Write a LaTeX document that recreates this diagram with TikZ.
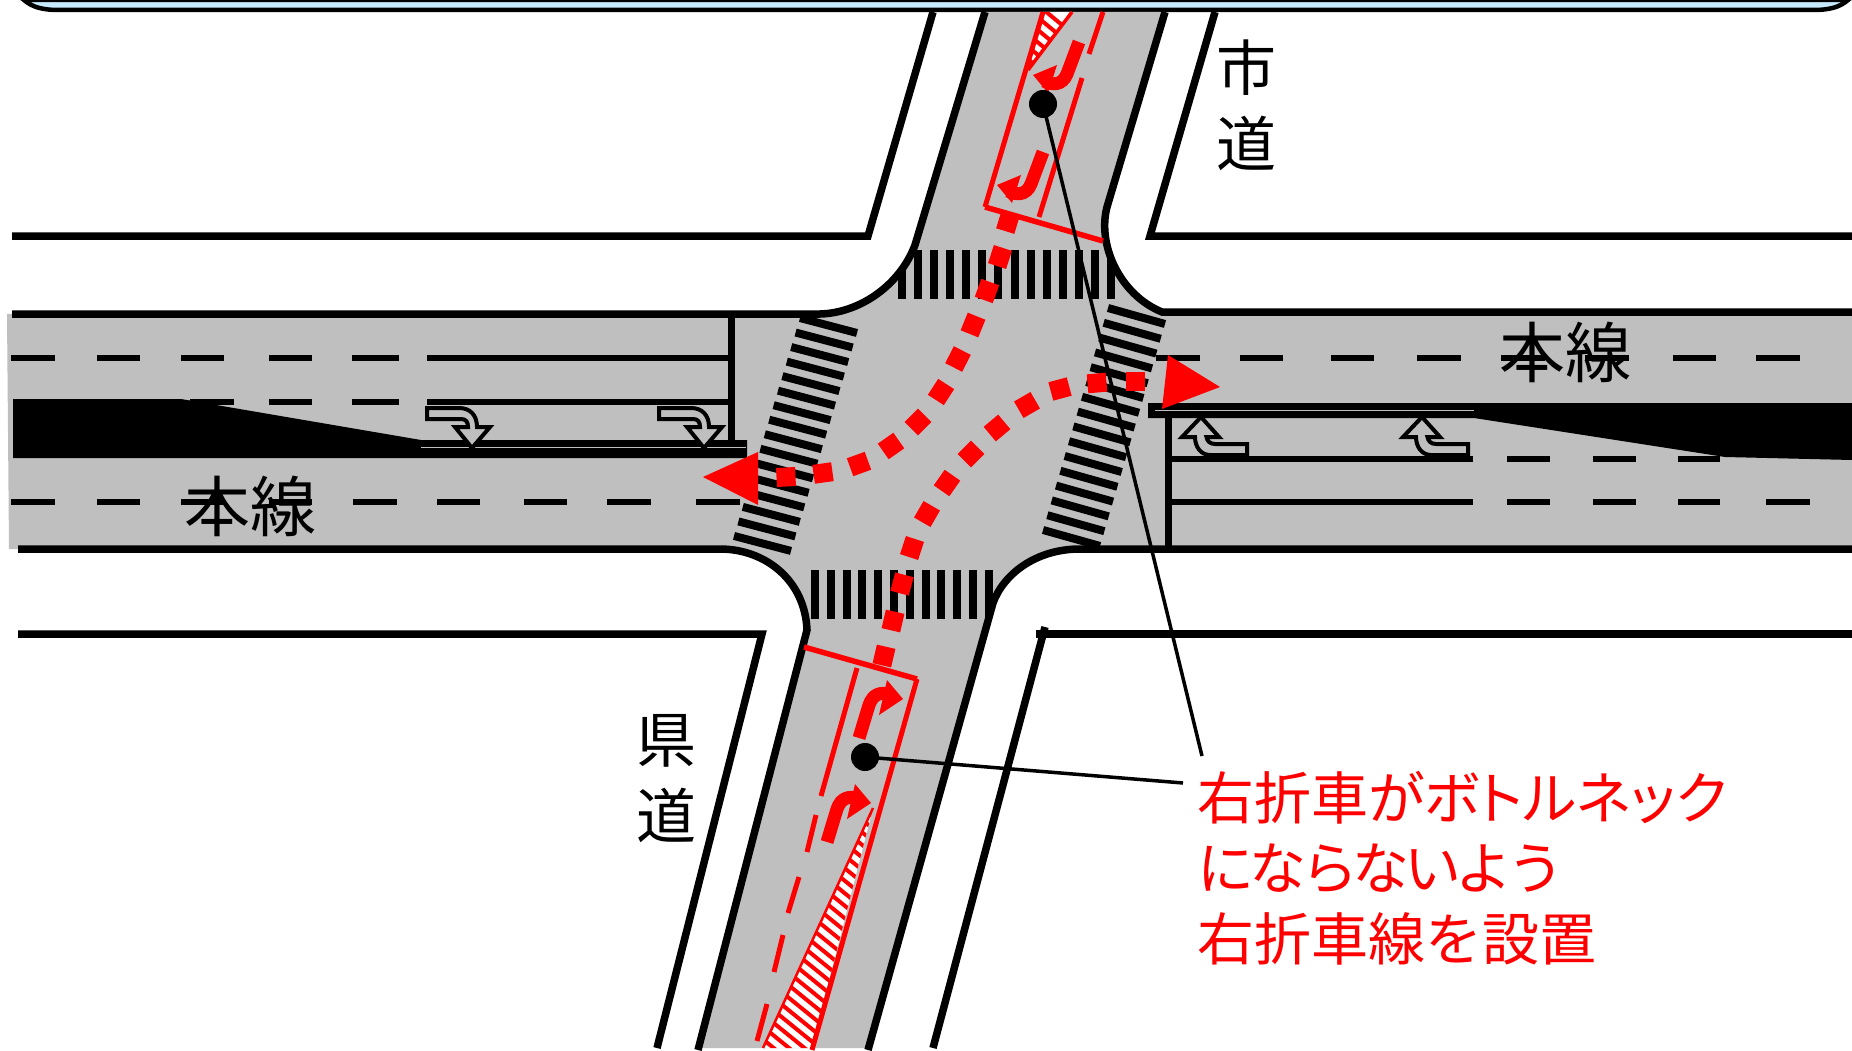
\documentclass[tikz,border=0pt]{standalone}
\usepackage{fontspec}
\setmainfont{Noto Sans CJK JP}
\newfontfamily\notefont[RawFeature=+palt]{Noto Sans CJK JP}
\definecolor{roadgray}{HTML}{BFBFBF}
\definecolor{bannerblue}{HTML}{C6E9FB}
\definecolor{routered}{HTML}{FF0000}
\newcommand{\roadshape}{(7,314) -- (820,313) .. controls (860,313) and (900,285) .. (915,245) -- (985,12) -- (1165,12) -- (1107,207) .. controls (1097,245) and (1120,295) .. (1162,312) -- (1852,312) -- (1852,549) -- (1080,549) .. controls (1035,549) and (1003,575) .. (993,603) -- (868,1048) -- (698,1048) -- (807,630) .. controls (805,580) and (765,549) .. (720,549) -- (9,549) -- cycle}
\begin{document}
\begin{tikzpicture}[x=1pt,y=-1pt,line cap=butt,
    roadline/.style={line width=7.5pt,black},
    laneline/.style={line width=5.5pt,black},
    redline/.style={line width=5pt,routered},
    turnmark/.style={line width=4pt,black,fill=roadgray,line join=miter},
    labeltext/.style 2 args={font=\fontsize{#1}{#2}\selectfont,inner sep=0pt}]
    \useasboundingbox (0,0) rectangle (1852,1051);
    % banner along the top edge
    \draw [line width=4.5pt,fill=bannerblue] (24,0) .. controls (32,7) and (42,10) .. (59,10) -- (1813,10) .. controls (1830,10) and (1840,7) .. (1848,0) -- cycle;
    \fill [roadgray] \roadshape;
    % crossings
    \begin{scope}
        \clip \roadshape;
        \foreach \k in {0,...,13}
            \draw [line width=8pt] ({902+16.07*\k},250) -- ({902+16.07*\k},299);
        \foreach \k in {0,...,11}
            \draw [line width=8pt] ({815+15.8*\k},570) -- ({815+15.8*\k},619);
        \foreach \k in {0,...,15} {
            \draw [line width=8pt] ({800-4.4*\k},{318+14.53*\k}) -- ({857-4.4*\k},{333+14.53*\k});
            \draw [line width=8pt] ({1108-4.33*\k},{308+14.8*\k}) -- ({1165-4.33*\k},{324+14.8*\k});
        }
    \end{scope}
    % outer lines
    \draw [roadline] (12,236) -- (868,236) -- (933,12);
    \draw [roadline] (1852,236) -- (1150,236) -- (1215,12);
    \draw [roadline] (18,634) -- (762,634) -- (657,1048);
    \draw [roadline] (1852,634) -- (1036,634);
    \draw [roadline] (1045,627) -- (933,1048);
    % road edges
    \draw [roadline] (12,314) -- (820,314) .. controls (860,313) and (900,285) .. (915,245) -- (985,12);
    \draw [roadline] (1165,12) -- (1107,207) .. controls (1097,245) and (1120,295) .. (1162,312) -- (1852,312);
    \draw [roadline] (18,549) -- (720,549) .. controls (765,549) and (805,580) .. (807,630) -- (698,1050);
    \draw [roadline] (1852,549) -- (1080,549) .. controls (1035,549) and (1003,575) .. (993,603) -- (868,1050);
    % lane lines, left arm
    \foreach \a/\b in {11/55,97/140,181/224,269/312,352/399,427/731}
        \draw [laneline] (\a,358) -- (\b,358);
    \foreach \a/\b in {190/234,269/312,352/399,427/731}
        \draw [laneline] (\a,402) -- (\b,402);
    \foreach \a/\b in {11/55,97/140,181/224,269/312,353/397,437/480,524/567,607/651,696/740}
        \draw [laneline] (\a,502) -- (\b,502);
    \draw [line width=7pt] (731,312) -- (731,445);
    \fill (13,399) -- (181,399) -- (421,440) -- (747,440) -- (747,458) -- (13,458) -- cycle;
    \draw [line width=1pt,black!25] (421,447.5) -- (746,447.5);
    % lane lines, right arm
    \foreach \a/\b in {1156/1200,1240/1283,1331/1374,1417/1461,1501/1545,1585/1629,1673/1716,1756/1800}
        \draw [laneline] (\a,358) -- (\b,358);
    \foreach \a/\b in {1168/1473,1507/1550,1593/1636,1678/1720}
        \draw [laneline] (\a,459) -- (\b,459);
    \foreach \a/\b in {1168/1473,1507/1550,1593/1636,1678/1720,1766/1810}
        \draw [laneline] (\a,502) -- (\b,502);
    \draw [line width=7pt] (1168,415) -- (1168,549);
    \fill (1148,403) -- (1852,403) -- (1852,460) -- (1725,457) -- (1474,418) -- (1148,418) -- cycle;
    \draw [line width=1pt,black!25] (1155,410) -- (1474,410);
    % turn marks on the road
    \foreach \dx in {0,232}
        \draw [turnmark,xshift=\dx] (427,408) -- (459,408) .. controls (470,408) and (477,415) .. (477,427) -- (490,427) -- (472,448) -- (455,427) -- (468,427) .. controls (468,422) and (466,419) .. (461,419) -- (427,419) -- cycle;
    \foreach \dx in {0,221}
        \draw [turnmark,xshift=\dx] (1201,417) -- (1219,437) -- (1206.5,437) .. controls (1207,441) and (1210,444) .. (1215,444) -- (1247,444) -- (1247,455) -- (1210,455) .. controls (1201,455) and (1195,447) .. (1195,437) -- (1182,437) -- cycle;
    % marked lane, upper arm
    \begin{scope}
        \clip (1028,68) -- (1043,12) -- (1072,12) -- cycle;
        \fill [white] (1020,0) rectangle (1080,80);
        \foreach \k in {0,...,8}
            \draw [line width=4pt,routered] (1020,{-10+12.5*\k}) -- (1080,{40+12.5*\k});
    \end{scope}
    \draw [redline] (1043,12) -- (985,207);
    \draw [redline,line width=3.5pt] (1072,12) -- (1028,70);
    \draw [redline,line width=5.5pt] (985,207) -- (1103,241);
    \draw [redline] (1039,217) -- (1082,78);
    \draw [redline] (1089,54) -- (1103,12);
    \foreach \dx/\dy in {0/0,-36/110} {
        \draw [routered,line width=13pt,xshift=\dx,yshift=-\dy] (1079,42) -- (1067,74) .. controls (1062,86) and (1052,85) .. (1044,81);
        \fill [routered,xshift=\dx,yshift=-\dy] (1033,75) -- (1057,65) -- (1048,93) -- cycle;
    }
    % marked lane, lower arm
    \begin{scope}
        \clip (873,808) -- (763,1048) -- (812,1048) -- cycle;
        \fill [white] (750,800) rectangle (880,1050);
        \foreach \k in {0,...,28}
            \draw [line width=4pt,routered] (730,{700+12.5*\k}) -- (890,{830+12.5*\k});
    \end{scope}
    \draw [redline,line width=2.5pt] (873,808) -- (763,1048);
    \draw [redline,line width=5.5pt] (804,647) -- (917,679);
    \draw [redline] (917,679) -- (812,1050);
    \draw [redline] (857,668) -- (821,796);
    \foreach \xa/\ya/\xb/\yb in {816/815/807/852,799/877/788/913,783/935/774/972,767/1004/757/1041}
        \draw [redline] (\xa,\ya) -- (\xb,\yb);
    \foreach \dx/\dy in {0/0,-32/104} {
        \draw [routered,line width=13pt,xshift=\dx,yshift=-\dy] (859,738) -- (869,705) .. controls (873,694) and (880,692) .. (890,694);
        \fill [routered,xshift=\dx,yshift=-\dy] (887,680) -- (903,699) -- (879,715) -- cycle;
    }
    % vehicle paths
    \foreach \x/\y/\a in {1008/222/73,1000/257/72,987/291/70,973/325/68,958/359/63,941/392/57,918/422/45,891/446/35,859/464/20,823/473/8,786/477/3}
        \fill [routered,shift={(\x,\y)},rotate=\a] (-9.5,-9.5) rectangle (9.5,9.5);
    \foreach \x/\y/\a in {884/656/77,893/621/77,902/584/75,912/548/72,927/514/60,947/483/55,971/454/45,997/428/40,1027/405/30,1060/389/15,1097/383/5,1135/381/0}
        \fill [routered,shift={(\x,\y)},rotate=\a] (-9.5,-9.5) rectangle (9.5,9.5);
    \fill [routered] (1168,355) -- (1220,387) -- (1162,409) -- cycle;
    \fill [routered] (758,452) -- (703,477) -- (758,505) -- cycle;
    % labels
    \node [labeltext={66}{66}] (mainW) at (250,506) {本線};
    \node [labeltext={66}{66}] (mainE) at (1565,352) {本線};
    \node [labeltext={60}{76},align=center] (cityroad) at (1246,105) {市\\道};
    \node [labeltext={60}{76},align=center] (prefroad) at (666,779) {県\\道};
    \node [labeltext={57}{70.5},align=left,anchor=west,text=routered] (note) at (1197,868) {\notefont 右折車がボトルネック\\{\addfontfeature{LetterSpace=-9}にならないよう}\\右折車線を設置};
    % leaders
    \node [circle,fill=black,inner sep=0pt,minimum size=28pt] (dotN) at (1043,104) {};
    \node [circle,fill=black,inner sep=0pt,minimum size=28pt] (dotS) at (865,757) {};
    \coordinate (leadN) at (1202,756);
    \coordinate (leadS) at (1183,783);
    \draw [line width=3.5pt] (dotN.center) -- (leadN);
    \draw [line width=3.5pt] (dotS.center) -- (leadS);
\end{tikzpicture}
\end{document}
